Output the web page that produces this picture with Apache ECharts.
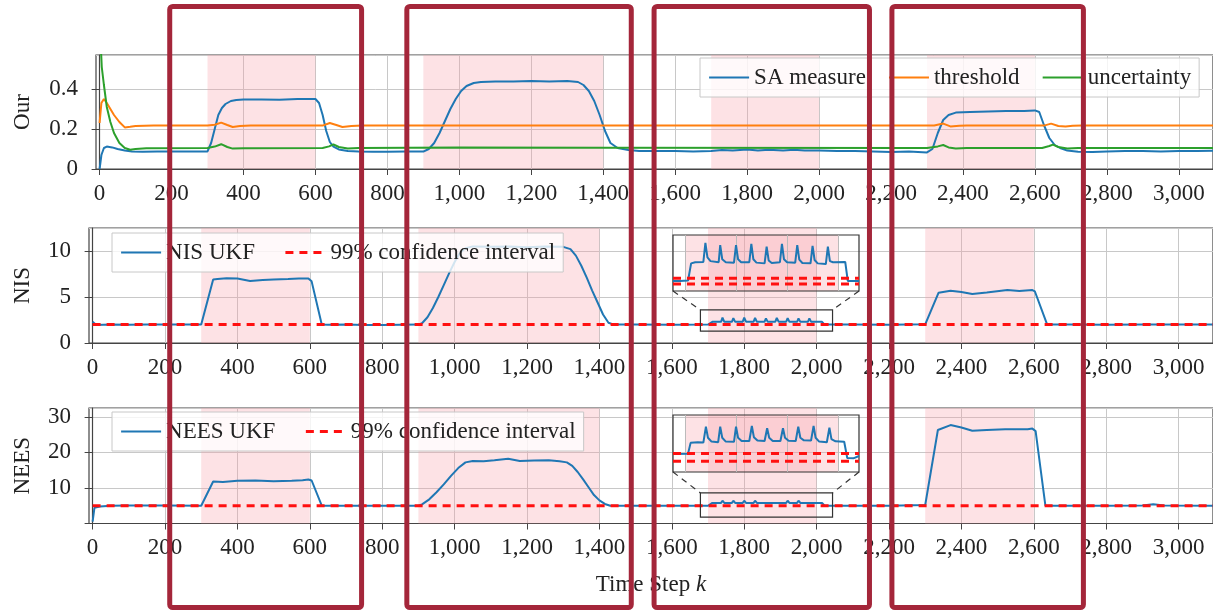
<!DOCTYPE html>
<html><head><meta charset="utf-8">
<script src="https://cdn.jsdelivr.net/npm/echarts@6/dist/echarts.min.js"></script>
<style>html,body{margin:0;padding:0;background:#fff}#c{width:1213px;height:610px}</style>
</head><body><div id="c"></div>
<script>
// ---------- data ----------
const xTickValues = [0,200,400,600,800,1000,1200,1400,1600,1800,2000,2200,2400,2600,2800,3000];
const attackRanges = [[300,600],[900,1400],[1700,2000],[2300,2600]];
const highlightBoxes = [[213,743],[868,1488],[1551,2146],[2208,2737]];

const saMeasure = [[0,0.0],[5,0.07],[12,0.105],[20,0.112],[35,0.108],[50,0.1],[70,0.093],[90,0.088],[120,0.086],[160,0.087],[200,0.088],[250,0.087],[300,0.088],[310,0.13],[320,0.2],[330,0.27],[340,0.305],[350,0.325],[365,0.34],[380,0.345],[400,0.348],[450,0.347],[500,0.346],[550,0.35],[600,0.35],[610,0.33],[620,0.27],[630,0.19],[640,0.135],[650,0.112],[665,0.098],[690,0.09],[720,0.087],[760,0.086],[800,0.086],[850,0.087],[900,0.087],[915,0.1],[930,0.13],[945,0.18],[960,0.24],[975,0.3],[990,0.35],[1005,0.39],[1020,0.415],[1040,0.43],[1060,0.435],[1100,0.438],[1150,0.437],[1200,0.44],[1250,0.438],[1300,0.44],[1330,0.435],[1345,0.42],[1360,0.39],[1375,0.34],[1390,0.27],[1405,0.19],[1420,0.13],[1440,0.105],[1470,0.095],[1500,0.09],[1550,0.09],[1600,0.09],[1650,0.088],[1700,0.09],[1730,0.095],[1760,0.092],[1800,0.097],[1830,0.092],[1860,0.096],[1900,0.093],[1930,0.096],[1960,0.092],[2000,0.093],[2050,0.09],[2100,0.09],[2150,0.088],[2200,0.085],[2250,0.087],[2300,0.083],[2315,0.1],[2330,0.18],[2345,0.245],[2360,0.27],[2380,0.282],[2420,0.285],[2470,0.288],[2520,0.29],[2570,0.29],[2600,0.293],[2612,0.285],[2625,0.22],[2640,0.155],[2655,0.12],[2670,0.105],[2690,0.092],[2720,0.086],[2760,0.085],[2800,0.088],[2850,0.09],[2900,0.09],[2950,0.087],[3000,0.09],[3050,0.09],[3100,0.092]];
const threshold = [[0,0.23],[5,0.33],[12,0.35],[20,0.33],[30,0.3],[40,0.27],[55,0.235],[70,0.208],[85,0.211],[100,0.215],[150,0.217],[300,0.217],[320,0.221],[338,0.232],[355,0.22],[370,0.21],[390,0.215],[420,0.217],[620,0.217],[640,0.23],[658,0.22],[675,0.21],[700,0.215],[730,0.217],[2320,0.217],[2345,0.227],[2365,0.213],[2390,0.216],[2410,0.217],[2625,0.217],[2645,0.227],[2665,0.215],[2685,0.212],[2705,0.216],[2730,0.217],[3100,0.217]];
const uncertainty = [[0,0.75],[6,0.51],[12,0.42],[20,0.31],[30,0.235],[40,0.18],[55,0.13],[70,0.105],[85,0.096],[100,0.1],[130,0.104],[300,0.105],[320,0.112],[338,0.124],[355,0.11],[370,0.102],[400,0.104],[620,0.105],[638,0.113],[650,0.123],[665,0.11],[690,0.103],[720,0.105],[1000,0.107],[1400,0.106],[2300,0.105],[2330,0.113],[2345,0.12],[2360,0.108],[2380,0.103],[2410,0.105],[2620,0.105],[2640,0.115],[2650,0.122],[2665,0.11],[2690,0.103],[2720,0.105],[3100,0.105]];

const nisUkf = [[0,2.3],[3,2.1],[10,1.95],[50,2.0],[100,1.98],[150,2.0],[200,2.02],[250,2.0],[300,2.0],[333,6.9],[345,6.95],[370,7.05],[400,7.0],[435,6.75],[470,6.85],[500,6.9],[540,6.95],[570,7.0],[596,7.02],[605,6.7],[633,2.0],[650,1.98],[700,2.0],[750,1.97],[800,1.95],[850,1.98],[900,2.0],[910,2.15],[925,2.8],[940,3.8],[955,5.0],[970,6.3],[985,7.6],[1000,8.8],[1015,9.8],[1030,10.3],[1050,10.5],[1100,10.45],[1150,10.5],[1200,10.4],[1250,10.5],[1300,10.45],[1320,10.2],[1335,9.5],[1350,8.4],[1365,7.1],[1380,5.7],[1395,4.4],[1410,3.1],[1425,2.2],[1440,2.0],[1500,2.0],[1600,1.98],[1700,2.0],[1712,2.3],[1736,2.3],[1740,2.75],[1745,2.3],[1766,2.3],[1770,2.7],[1775,2.3],[1796,2.32],[1800,2.75],[1805,2.32],[1826,2.32],[1830,2.72],[1835,2.3],[1856,2.3],[1860,2.68],[1865,2.3],[1886,2.32],[1890,2.72],[1895,2.32],[1916,2.32],[1920,2.7],[1925,2.3],[1946,2.3],[1950,2.68],[1955,2.3],[1976,2.3],[1980,2.68],[1985,2.3],[2015,2.3],[2022,2.0],[2100,2.0],[2200,1.98],[2300,2.03],[2337,5.47],[2370,5.69],[2400,5.55],[2430,5.33],[2470,5.5],[2527,5.75],[2560,5.65],[2596,5.75],[2603,5.6],[2637,2.0],[2700,2.0],[2800,1.98],[2900,2.0],[3000,2.0],[3100,2.0]];
const nisBound = [[0,2.0],[3100,2.0]];

const neesUkf = [[0,0.5],[5,4.4],[20,4.8],[50,5.0],[100,5.05],[200,5.1],[300,5.0],[333,11.8],[360,11.7],[400,12.0],[450,12.1],[500,11.9],[550,12.0],[580,12.2],[596,12.4],[605,12.1],[633,5.0],[700,5.0],[800,5.0],[900,5.0],[910,5.4],[930,6.8],[950,8.8],[970,11.0],[990,13.4],[1010,15.6],[1030,17.2],[1050,17.6],[1080,17.5],[1110,17.8],[1148,18.2],[1180,17.6],[1220,17.7],[1260,17.8],[1290,17.5],[1310,17.2],[1325,16.2],[1340,14.5],[1355,12.4],[1370,10.2],[1385,8.0],[1400,6.5],[1415,5.5],[1430,5.0],[1500,5.0],[1600,5.0],[1700,5.0],[1712,5.8],[1736,5.8],[1740,6.4],[1745,5.8],[1766,5.8],[1770,6.4],[1775,5.8],[1796,5.8],[1800,6.4],[1805,5.8],[1826,5.8],[1830,6.4],[1835,5.8],[1856,5.8],[1860,6.3],[1865,5.8],[1886,5.8],[1890,6.3],[1895,5.8],[1916,5.8],[1920,6.4],[1925,5.8],[1946,5.8],[1950,6.4],[1955,5.8],[1976,5.8],[1980,6.3],[1985,5.8],[2015,5.8],[2022,5.0],[2100,5.0],[2200,5.0],[2300,5.2],[2335,26.3],[2370,27.7],[2400,27.0],[2430,26.1],[2470,26.3],[2521,26.5],[2583,26.5],[2596,26.7],[2605,26.0],[2632,5.0],[2700,5.0],[2800,5.0],[2900,5.1],[2930,5.4],[2960,5.1],[3100,5.0]];
const neesBound = [[0,5.0],[3100,5.0]];

// zoomed insets (own scales)
const insetXRange = [1676.5, 2041];
const insetGridLines = [1700,1800,1900,2000];
const nisInset = [[1676.5,1.77],[1690,1.77],[1706,1.78],[1712,2.24],[1720,2.27],[1736,2.28],[1740,2.79],[1744,2.4],[1750,2.3],[1766,2.27],[1769,2.73],[1773,2.35],[1780,2.27],[1796,2.26],[1800,2.73],[1804,2.35],[1810,2.27],[1826,2.27],[1830,2.76],[1834,2.35],[1840,2.26],[1856,2.24],[1860,2.69],[1864,2.32],[1870,2.25],[1886,2.27],[1890,2.76],[1894,2.35],[1900,2.27],[1916,2.26],[1920,2.73],[1924,2.34],[1930,2.25],[1946,2.24],[1950,2.71],[1954,2.33],[1960,2.24],[1976,2.22],[1980,2.69],[1984,2.3],[1990,2.27],[2014,2.28],[2019,1.77],[2041,1.77]];
const nisInsetBoundA = [[1676.5,1.84],[2041,1.84]];
const nisInsetBoundB = [[1676.5,1.69],[2041,1.69]];
const neesInset = [[1676.5,4.92],[1706,4.95],[1711,5.8],[1725,5.85],[1736,5.82],[1741,7.08],[1745,6.2],[1752,5.9],[1765,5.85],[1769,7.08],[1773,6.2],[1780,5.9],[1796,5.88],[1800,7.08],[1804,6.2],[1811,5.95],[1826,5.95],[1831,7.13],[1835,6.25],[1842,5.98],[1856,5.95],[1861,6.95],[1865,6.2],[1872,5.95],[1887,5.95],[1892,6.95],[1896,6.2],[1903,5.97],[1917,5.95],[1922,7.08],[1926,6.2],[1933,6.0],[1947,5.98],[1952,7.13],[1956,6.2],[1963,5.9],[1978,5.85],[1983,7.0],[1987,6.1],[1995,5.92],[2012,5.89],[2018,4.6],[2030,4.58],[2041,4.76]];
const neesInsetBoundA = [[1676.5,4.97],[2041,4.97]];
const neesInsetBoundB = [[1676.5,4.34],[2041,4.34]];
const nisSpyBox = [[1679,3.6],[2044,1.3]];
const neesSpyBox = [[1679,8.6],[2044,1.8]];

// ---------- styles ----------
const FONT = "'Liberation Serif','DejaVu Serif',serif";
const BLUE = '#1f77b4', ORANGE = '#ff7f0e', GREEN = '#2ca02c', RED = '#ff1010';
const PINK = 'rgba(250,160,170,0.3)';
const AXIS = '#444', GRIDC = '#c8c8c8', TXT = '#222';
const fmtX = v => String(v).replace(/\B(?=(\d{3})+(?!\d))/g, ',');

function xAxisCfg(gi, extra) {
  return Object.assign({
    type: 'value', gridIndex: gi, min: -10, max: 3095, splitNumber: 15,
    axisLine: {show: true, onZero: false, lineStyle: {color: AXIS, width: 1.2}},
    axisTick: {show: true, length: 6, customValues: xTickValues, lineStyle: {color: AXIS}},
    axisLabel: {customValues: xTickValues, margin: 13, fontSize: 23, fontFamily: FONT, color: TXT, formatter: fmtX},
    splitLine: {show: true, lineStyle: {color: GRIDC, width: 1}}
  }, extra || {});
}
function yAxisCfg(gi, min, max, interval, name, gap, hideZero) {
  return {
    type: 'value', gridIndex: gi, min: min, max: max, interval: interval,
    name: name, nameLocation: 'middle', nameGap: gap,
    nameTextStyle: {fontSize: 23, fontFamily: FONT, color: TXT},
    axisLine: {show: true, lineStyle: {color: AXIS, width: 1.2}},
    axisTick: {show: true, length: 8, lineStyle: {color: AXIS}},
    axisLabel: {margin: 18, fontSize: 23, fontFamily: FONT, color: TXT, showMaxLabel: false,
      formatter: v => (hideZero && v === 0) ? '' : String(v)},
    splitLine: {show: true, lineStyle: {color: GRIDC, width: 1}}
  };
}
function lineSeries(name, data, xi, color, width, dashed, z) {
  return {
    name: name, type: 'line', xAxisIndex: xi, yAxisIndex: xi, data: data,
    showSymbol: false, symbol: 'none', smooth: false, silent: true, z: z || 3,
    lineStyle: {color: color, width: width, type: dashed ? [8, 6] : 'solid'},
    itemStyle: {color: color}
  };
}
function areaSeries(xi, ranges) {
  return {
    type: 'line', xAxisIndex: xi, yAxisIndex: xi, data: [], silent: true, z: 1,
    markArea: {silent: true, itemStyle: {color: PINK}, data: ranges.map(r => [{xAxis: r[0]}, {xAxis: r[1]}])}
  };
}
function insetLines(xi) {
  return {
    type: 'line', xAxisIndex: xi, yAxisIndex: xi, data: [], silent: true, z: 4,
    markLine: {silent: true, symbol: 'none', label: {show: false},
      lineStyle: {color: '#bbb', width: 1, type: 'solid'},
      data: insetGridLines.map(v => ({xAxis: v}))}
  };
}
const legendBase = {
  orient: 'horizontal', itemWidth: 40, itemHeight: 14, padding: [8, 8],
  backgroundColor: 'rgba(255,255,255,0.8)', borderColor: '#c8c8c8', borderWidth: 1,
  itemStyle: {opacity: 0},
  textStyle: {fontSize: 23, fontFamily: FONT, color: TXT}, selectedMode: false
};
const solidItem = (n, c) => ({name: n, lineStyle: {color: c, width: 2.2, type: 'solid'}});
const dashItem = n => ({name: n, lineStyle: {color: RED, width: 3, type: [8, 6]}});

const chart = echarts.init(document.getElementById('c'), null, {renderer: 'canvas'});
const option = {
  backgroundColor: '#fff', animation: false,
  grid: [
    {left: 96, top: 55, right: -1, height: 114, show: true, borderColor: AXIS, borderWidth: 1.2, backgroundColor: 'transparent'},
    {left: 89, top: 228, right: -1, height: 115, show: true, borderColor: AXIS, borderWidth: 1.2, backgroundColor: 'transparent'},
    {left: 89, top: 408, right: -1, height: 115.5, show: true, borderColor: AXIS, borderWidth: 1.2, backgroundColor: 'transparent'},
    {left: 673, top: 235, width: 186, height: 56, show: true, borderColor: '#333', borderWidth: 1.2, backgroundColor: 'transparent', z: 5},
    {left: 673, top: 415, width: 186, height: 57, show: true, borderColor: '#333', borderWidth: 1.2, backgroundColor: 'transparent', z: 5}
  ],
  xAxis: [
    xAxisCfg(0), xAxisCfg(1),
    xAxisCfg(2, {name: 'Time Step {i|k}', nameLocation: 'middle', nameGap: 50,
      nameTextStyle: {fontSize: 23, fontFamily: FONT, color: TXT,
        rich: {i: {fontStyle: 'italic', fontSize: 23, fontFamily: FONT, color: TXT}}}}),
    {type: 'value', gridIndex: 3, min: insetXRange[0], max: insetXRange[1], show: false},
    {type: 'value', gridIndex: 4, min: insetXRange[0], max: insetXRange[1], show: false}
  ],
  yAxis: [
    yAxisCfg(0, 0, 0.57, 0.2, 'Our', 62, false),
    yAxisCfg(1, 0, 12.5, 5, 'NIS', 55, false),
    yAxisCfg(2, 0, 32.5, 10, 'NEES', 55, true),
    {type: 'value', gridIndex: 3, min: 1.5, max: 3.0, show: false, splitLine: {show: false}},
    {type: 'value', gridIndex: 4, min: 3.5, max: 8.0, show: false, splitLine: {show: false}}
  ],
  legend: [
    Object.assign({}, legendBase, {left: 700, top: 58, itemGap: 22,
      data: [solidItem('SA measure', BLUE), solidItem('threshold', ORANGE), solidItem('uncertainty', GREEN)]}),
    Object.assign({}, legendBase, {left: 112, top: 233, itemGap: 29,
      data: [solidItem('NIS UKF', BLUE), dashItem('99% confidence interval')]}),
    Object.assign({}, legendBase, {left: 112, top: 412, itemGap: 29,
      data: [solidItem('NEES UKF', BLUE), dashItem('99% confidence interval')]})
  ],
  series: [
    areaSeries(0, attackRanges), areaSeries(1, attackRanges), areaSeries(2, attackRanges),
    lineSeries('SA measure', saMeasure, 0, BLUE, 2),
    lineSeries('threshold', threshold, 0, ORANGE, 2),
    lineSeries('uncertainty', uncertainty, 0, GREEN, 2),
    lineSeries('NIS UKF', nisUkf, 1, BLUE, 2),
    lineSeries('99% confidence interval', nisBound, 1, RED, 3, true, 4),
    lineSeries('NEES UKF', neesUkf, 2, BLUE, 2),
    lineSeries('99% confidence interval', neesBound, 2, RED, 3, true, 4),
    areaSeries(3, [[1700, 2000]]), areaSeries(4, [[1700, 2000]]),
    insetLines(3), insetLines(4),
    lineSeries('nis-zoom', nisInset, 3, BLUE, 2, false, 6),
    lineSeries('nis-zoom-a', nisInsetBoundA, 3, RED, 3, true, 7),
    lineSeries('nis-zoom-b', nisInsetBoundB, 3, RED, 3, true, 7),
    lineSeries('nees-zoom', neesInset, 4, BLUE, 2, false, 6),
    lineSeries('nees-zoom-a', neesInsetBoundA, 4, RED, 3, true, 7),
    lineSeries('nees-zoom-b', neesInsetBoundB, 4, RED, 3, true, 7)
  ]
};
chart.setOption(option);

// ---------- overlays computed through the axes ----------
const graphics = [];
function spy(boxData, mainGrid, insetGrid, insetYMin) {
  const p1 = chart.convertToPixel({gridIndex: mainGrid}, boxData[0]);
  const p2 = chart.convertToPixel({gridIndex: mainGrid}, boxData[1]);
  graphics.push({type: 'rect', z: 50, shape: {x: p1[0], y: p1[1], width: p2[0] - p1[0], height: p2[1] - p1[1]},
    style: {fill: 'none', stroke: '#333', lineWidth: 1.2}});
  const q1 = chart.convertToPixel({gridIndex: insetGrid}, [insetXRange[0], insetYMin]);
  const q2 = chart.convertToPixel({gridIndex: insetGrid}, [insetXRange[1], insetYMin]);
  graphics.push({type: 'line', z: 50, shape: {x1: q1[0], y1: q1[1], x2: p1[0], y2: p1[1]},
    style: {stroke: '#333', lineWidth: 1.2, lineDash: [6, 5]}});
  graphics.push({type: 'line', z: 50, shape: {x1: q2[0], y1: q2[1], x2: p2[0], y2: p1[1]},
    style: {stroke: '#333', lineWidth: 1.2, lineDash: [6, 5]}});
}
spy(nisSpyBox, 1, 3, 1.5);
spy(neesSpyBox, 2, 4, 3.5);
highlightBoxes.forEach(b => {
  const xa = chart.convertToPixel({xAxisIndex: 1}, b[0]);
  const xb = chart.convertToPixel({xAxisIndex: 1}, b[1]);
  graphics.push({type: 'rect', z: 100, shape: {x: xa, y: 6.5, width: xb - xa, height: 601, r: 3},
    style: {fill: 'none', stroke: '#a4263a', lineWidth: 5}});
});
chart.setOption({graphic: graphics});
</script>
</body></html>
